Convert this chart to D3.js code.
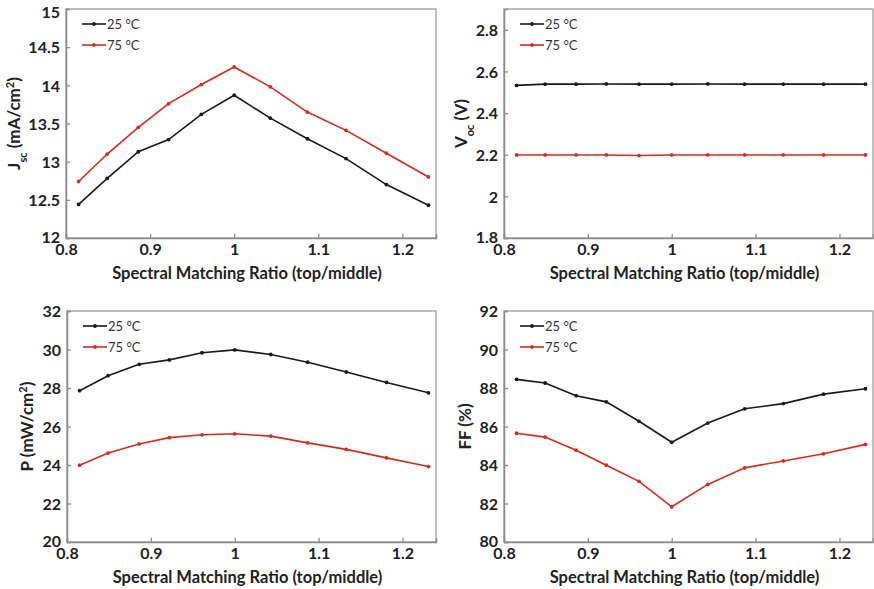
<!DOCTYPE html>
<html>
<head>
<meta charset="utf-8">
<script src="https://cdn.jsdelivr.net/npm/d3@7"></script>
<style>
  body { margin: 0; background: #fff; }
  svg { display: block; }
  text { font-family: Lato, "Open Sans", sans-serif; }
</style>
</head>
<body>
<svg id="chart"></svg>
<script>
// spectral matching ratio (top/middle), shared by all four panels
const ratio = [0.815, 0.849, 0.886, 0.922, 0.961, 1.0, 1.043, 1.087, 1.133, 1.181, 1.231];

const jsc25 = [12.44, 12.78, 13.13, 13.29, 13.62, 13.87, 13.57, 13.30, 13.04, 12.70, 12.43];
const jsc75 = [12.74, 13.10, 13.45, 13.76, 14.01, 14.24, 13.98, 13.65, 13.41, 13.11, 12.80];
const voc25 = [2.533, 2.539, 2.539, 2.540, 2.539, 2.539, 2.540, 2.539, 2.539, 2.539, 2.539];
const voc75 = [2.199, 2.199, 2.199, 2.199, 2.196, 2.199, 2.199, 2.199, 2.199, 2.199, 2.199];
const p25 = [27.86, 28.64, 29.23, 29.46, 29.83, 29.98, 29.74, 29.34, 28.83, 28.29, 27.75];
const p75 = [23.99, 24.62, 25.09, 25.42, 25.57, 25.62, 25.50, 25.15, 24.81, 24.37, 23.92];
const ff25 = [88.45, 88.26, 87.60, 87.28, 86.27, 85.18, 86.18, 86.92, 87.19, 87.68, 87.96];
const ff75 = [85.65, 85.45, 84.77, 83.99, 83.15, 81.83, 82.99, 83.85, 84.21, 84.58, 85.07];

const seriesNames = ["25 °C", "75 °C"];
const xTicks = [0.8, 0.9, 1, 1.1, 1.2];
const jscTicks = [12, 12.5, 13, 13.5, 14, 14.5, 15];
const vocTicks = [1.8, 2, 2.2, 2.4, 2.6, 2.8];
const pTicks = [20, 22, 24, 26, 28, 30, 32];
const ffTicks = [80, 82, 84, 86, 88, 90, 92];

const W = 874, H = 589;
const colors = ["#1a1a1a", "#d62a22"];

const svg = d3.select("#chart").attr("width", W).attr("height", H);

const panels = [
  { box: [66, 9, 436, 238], yDomain: [12, 15], yTicks: jscTicks, data: [jsc25, jsc75],
    title: [["J", 0], ["sc", 1], [" (mA/cm", 0], ["2", 2], [")", 0]], titleX: 20 },
  { box: [504, 9, 873, 238], yDomain: [1.8, 2.9], yTicks: vocTicks, data: [voc25, voc75],
    title: [["V", 0], ["oc", 1], [" (V)", 0]], titleX: 467 },
  { box: [67, 311, 436, 542], yDomain: [20, 32], yTicks: pTicks, data: [p25, p75],
    title: [["P (mW/cm", 0], ["2", 2], [")", 0]], titleX: 33 },
  { box: [504, 311, 873, 542], yDomain: [80, 92], yTicks: ffTicks, data: [ff25, ff75],
    title: [["FF (%)", 0]], titleX: 471 }
];

panels.forEach(p => {
  const [x0, y0, x1, y1] = p.box;
  const x = d3.scaleLinear().domain([0.8, 1.24]).range([x0, x1]);
  const y = d3.scaleLinear().domain(p.yDomain).range([y1, y0]);
  const g = svg.append("g");

  // frame
  g.append("rect")
    .attr("x", x0).attr("y", y0)
    .attr("width", x1 - x0).attr("height", y1 - y0)
    .attr("fill", "none").attr("stroke", "#a4a4a4").attr("stroke-width", 1.4);

  const xAxis = g.append("g")
    .attr("transform", `translate(0,${y1})`)
    .call(d3.axisBottom(x).tickValues(xTicks).tickFormat(d3.format("")).tickSize(-4).tickPadding(6));
  const yAxis = g.append("g")
    .attr("transform", `translate(${x0},0)`)
    .call(d3.axisLeft(y).tickValues(p.yTicks).tickFormat(d3.format("")).tickSize(-4).tickPadding(6));

  [xAxis, yAxis].forEach(a => {
    a.select(".domain").attr("stroke", "#8c8c8c").attr("stroke-width", 1.5);
    a.selectAll(".tick line").attr("stroke", "#8c8c8c").attr("stroke-width", 1.3);
    a.selectAll(".tick text")
      .attr("fill", "#222")
      .style("font-size", "16px")
      .style("font-weight", "bold");
  });
  // lift the lowest y label so it clears the x labels; drop a label that would hit the top edge
  yAxis.selectAll(".tick text").attr("dy", d => {
    if (d === p.yTicks[0]) return "0.3em";
    if (y(d) < 12) return "0.5em";
    return "0.36em";
  });

  // x axis title
  g.append("text")
    .attr("x", (x0 + x1) / 2 - 4)
    .attr("y", y1 + 41)
    .attr("text-anchor", "middle")
    .attr("fill", "#222")
    .style("font-size", "16.5px")
    .style("font-weight", "bold")
    .text("Spectral Matching Ratio (top/middle)");

  // y axis title
  const t = g.append("text")
    .attr("transform", `translate(${p.titleX},${(y0 + y1) / 2}) rotate(-90)`)
    .attr("text-anchor", "middle")
    .attr("fill", "#222")
    .style("font-size", "17px")
    .style("font-weight", "bold");
  p.title.forEach(([s, kind]) => {
    const ts = t.append("tspan").text(s);
    if (kind === 1) ts.attr("baseline-shift", "sub").style("font-size", "11px");
    if (kind === 2) ts.attr("baseline-shift", "super").style("font-size", "11px");
  });

  const line = d3.line().x((d, i) => x(ratio[i])).y(d => y(d));

  p.data.forEach((vals, k) => {
    g.append("path")
      .datum(vals)
      .attr("d", line)
      .attr("fill", "none")
      .attr("stroke", colors[k])
      .attr("stroke-width", 1.6);
    g.selectAll(null)
      .data(vals)
      .enter().append("circle")
      .attr("cx", (d, i) => x(ratio[i]))
      .attr("cy", d => y(d))
      .attr("r", 1.9)
      .attr("fill", colors[k]);
  });

  // legend
  const lg = g.append("g").attr("transform", `translate(${x0 + 16},${y0 + 15})`);
  seriesNames.forEach((name, k) => {
    const row = lg.append("g").attr("transform", `translate(0,${k * 21})`);
    row.append("line")
      .attr("x1", 0).attr("x2", 24)
      .attr("stroke", colors[k]).attr("stroke-width", 1.6);
    row.append("circle").attr("cx", 12).attr("r", 1.9).attr("fill", colors[k]);
    row.append("text")
      .attr("x", 25).attr("dy", "0.36em")
      .attr("fill", "#333")
      .style("font-size", "13px")
      .text(name);
  });
});
</script>
</body>
</html>
